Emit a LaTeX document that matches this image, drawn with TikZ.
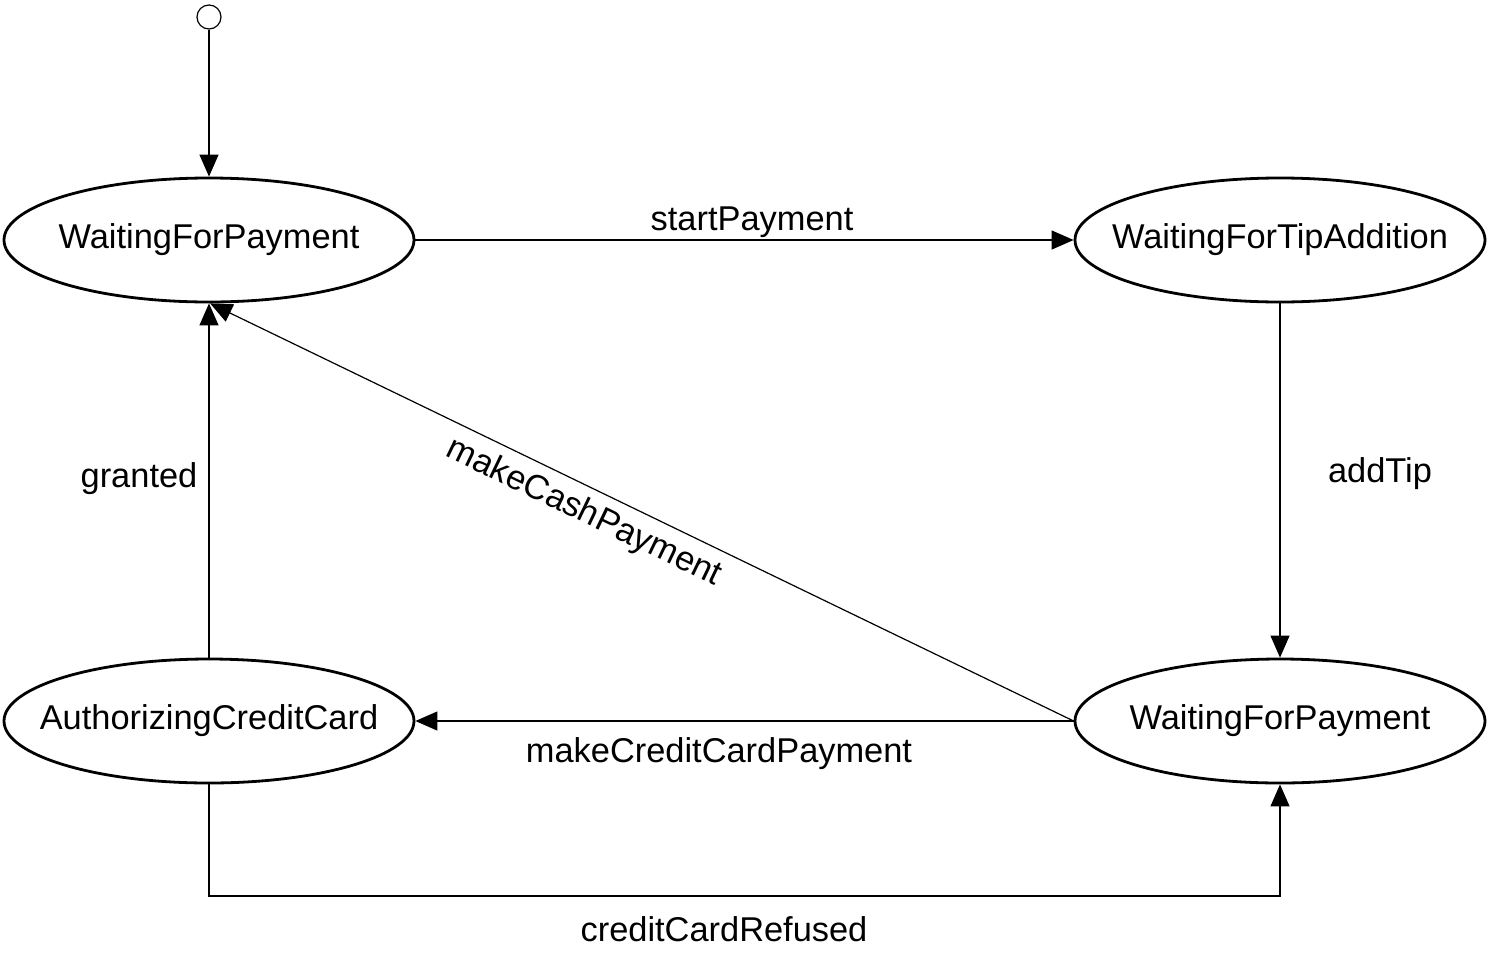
\documentclass[tikz,border=0pt]{standalone}
\usepackage{fontspec}
\setmainfont{Liberation Sans}
\usetikzlibrary{shapes.geometric,arrows.meta}
\newcommand{\stxt}[1]{\makebox[0pt]{\raisebox{-1.5pt}{#1}}}
\begin{document}
\begin{tikzpicture}[x=0.5pt,y=-0.5pt,
  state/.style={draw,ellipse,line width=1.4pt,minimum width=205pt,minimum height=62pt,inner sep=0pt,font=\fontsize{17.2pt}{20pt}\selectfont},
  trans/.style={line width=0.6pt,-{Triangle[length=11pt,width=9.5pt]}},
  lbl/.style={font=\fontsize{17.2pt}{20pt}\selectfont,inner sep=0pt}]
\useasboundingbox (0,0) rectangle (1508,953);
\node[draw,circle,line width=0.6pt,minimum size=12pt,inner sep=0pt] (init) at (209,17) {};
\node[state] (tL) at (209,240) {\stxt{WaitingForPayment}};
\node[state] (tR) at (1280,240) {\stxt{WaitingForTipAddition}};
\node[state] (bL) at (209,721) {\stxt{AuthorizingCreditCard}};
\node[state] (bR) at (1280,721) {\stxt{WaitingForPayment}};
\coordinate (c1) at (209,896);
\coordinate (c2) at (1280,896);
\draw[trans] (init) -- (tL);
\draw[trans] (tL.east) -- (tR.west);
\draw[trans] (tR.south) -- (bR.north);
\draw[trans] (bR.west) -- (bL.east);
\draw[trans] (bR.west) -- (tL.-89);
\draw[trans] (bL.north) -- (tL.south);
\draw[trans] (bL.south) -- (c1) -- (c2) -- (bR.south);
\node[lbl] (l1) at (752,222) {startPayment};
\node[lbl] (l2) at (1380,474) {addTip};
\node[lbl] (l3) at (719,754) {makeCreditCardPayment};
\node[lbl,rotate=-25.7] (l4) at (584,513) {makeCashPayment};
\node[lbl] (l5) at (139,479) {granted};
\node[lbl] (l6) at (724,929) {creditCardRefused};
\end{tikzpicture}
\end{document}
